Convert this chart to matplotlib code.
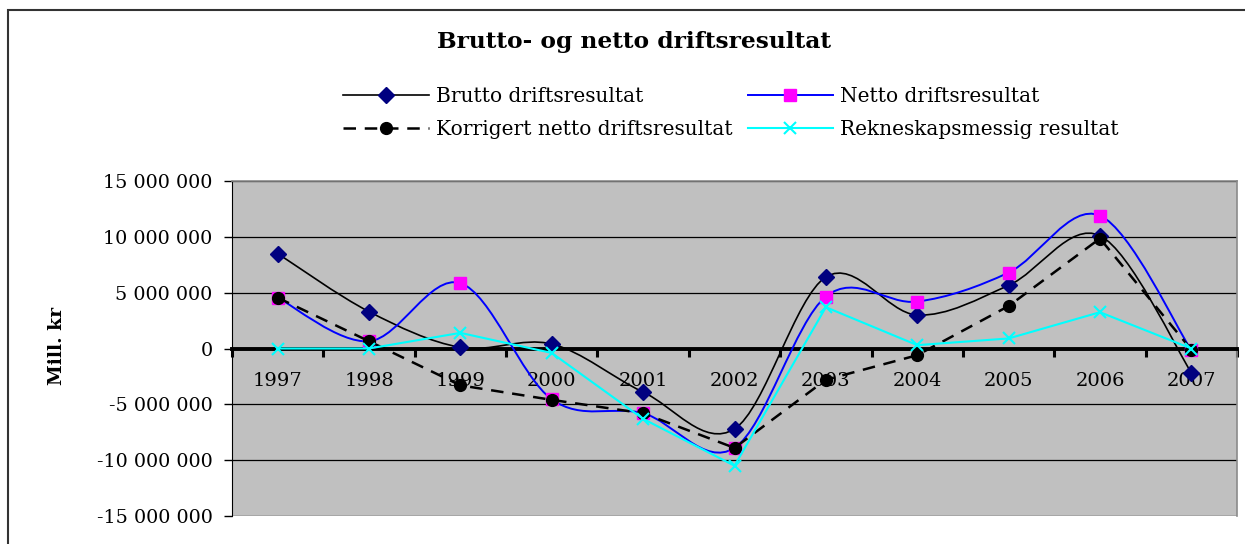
import matplotlib
matplotlib.use("Agg")
import matplotlib.pyplot as plt
from matplotlib.path import Path
from matplotlib.patches import PathPatch, Rectangle
from matplotlib.lines import Line2D
from matplotlib.ticker import FuncFormatter
import numpy as np

# data (kr)
years = ['1997', '1998', '1999', '2000', '2001', '2002', '2003', '2004', '2005', '2006', '2007']
brutto = [8.5e6, 3.3e6, 0.1e6, 0.4e6, -3.9e6, -7.2e6, 6.4e6, 3.0e6, 5.65e6, 10.1e6, -2.15e6]
netto = [4.55e6, 0.65e6, 5.85e6, -4.55e6, -5.8e6, -8.9e6, 4.65e6, 4.2e6, 6.8e6, 11.9e6, -0.15e6]
korrigert = [4.55e6, 0.65e6, -3.3e6, -4.6e6, -5.8e6, -8.9e6, -2.8e6, -0.6e6, 3.8e6, 9.85e6, -0.1e6]
rekneskap = [0.0, 0.0, 1.4e6, -0.4e6, -6.3e6, -10.5e6, 3.7e6, 0.3e6, 0.9e6, 3.25e6, 0.0]

labels = ['Brutto driftsresultat', 'Netto driftsresultat',
          'Korrigert netto driftsresultat', 'Rekneskapsmessig resultat']

plt.rcParams['font.family'] = ['DejaVu Serif']
plt.rcParams['axes.unicode_minus'] = False


def smooth_path(x, y):
    # excel style smoothed line (cubic bezier through the points)
    n = len(x)
    verts = [(x[0], y[0])]
    codes = [Path.MOVETO]
    for i in range(n - 1):
        xp, yp = (x[i - 1], y[i - 1]) if i > 0 else (x[i], y[i])
        xn, yn = (x[i + 2], y[i + 2]) if i + 2 < n else (x[i + 1], y[i + 1])
        c1 = (x[i] + (x[i + 1] - xp) / 6, y[i] + (y[i + 1] - yp) / 6)
        c2 = (x[i + 1] - (xn - x[i]) / 6, y[i + 1] - (yn - y[i]) / 6)
        verts += [c1, c2, (x[i + 1], y[i + 1])]
        codes += [Path.CURVE4] * 3
    return Path(verts, codes)


fig = plt.figure(figsize=(12.45, 5.44), dpi=100)
fig.patches.append(Rectangle((8 / 1245, -0.05), 1.1, 1 - 10 / 544 + 0.05,
                             transform=fig.transFigure, fill=False,
                             edgecolor='#333333', lw=1.5))

ax = fig.add_axes([232 / 1245, 28 / 544, 1005 / 1245, 335 / 544])
ax.set_facecolor('#C0C0C0')
x = np.arange(len(years))

# Brutto
ax.add_patch(PathPatch(smooth_path(x, brutto), facecolor='none', edgecolor='black', lw=1.2, zorder=3))
ax.plot(x, brutto, ls='none', marker='D', ms=8, color='#000080', zorder=3.1)
# Netto
ax.add_patch(PathPatch(smooth_path(x, netto), facecolor='none', edgecolor='#0000FF', lw=1.4, zorder=3.2))
ax.plot(x, netto, ls='none', marker='s', ms=8.5, color='#FF00FF', zorder=3.3)
# Korrigert
ax.plot(x, korrigert, color='black', lw=1.8, ls=(0, (5, 3.5)), zorder=3.4)
ax.plot(x, korrigert, ls='none', marker='o', ms=8.5, color='black', zorder=3.5)
# Rekneskap
ax.plot(x, rekneskap, color='#00FFFF', lw=1.5, marker='x', ms=9, mew=1.5, zorder=3.6)

ax.set_xlim(-0.5, len(years) - 0.5)
ax.set_ylim(-15e6, 15e6)
ax.set_yticks(np.arange(-15e6, 15e6 + 1, 5e6))
ax.yaxis.set_major_formatter(FuncFormatter(lambda v, p: f"{v:,.0f}".replace(',', ' ')))
ax.yaxis.grid(True, color='black', lw=0.9)
ax.tick_params(axis='y', direction='out', length=6, width=1, labelsize=13.8, pad=8)

ax.spines['bottom'].set_position(('data', 0))
ax.spines['bottom'].set_linewidth(2.8)
ax.spines['bottom'].set_zorder(2.9)
ax.spines['left'].set_color('black')
for s in ['top', 'right']:
    ax.spines[s].set_color('#8a8a8a')
    ax.spines[s].set_linewidth(1.2)

ax.set_xticks(x)
ax.set_xticklabels(years)
ax.set_xticks(np.arange(-0.5, len(years), 1), minor=True)
ax.tick_params(axis='x', which='major', length=0, pad=17, labelsize=14)
ax.tick_params(axis='x', which='minor', direction='out', length=6, width=2.2)

fig.text(634 / 1245, 1 - 42 / 544, 'Brutto- og netto driftsresultat',
         ha='center', va='center', fontsize=16.8, fontweight='bold')
fig.text(57 / 1245, 1 - 346 / 544, 'Mill. kr', rotation=90, ha='center', va='center',
         fontsize=13.5, fontweight='bold')

h_brutto = Line2D([], [], color='black', lw=1.2, marker='D', ms=8, mfc='#000080', mec='#000080')
h_netto = Line2D([], [], color='#0000FF', lw=1.4, marker='s', ms=8.5, mfc='#FF00FF', mec='#FF00FF')
h_korr = Line2D([], [], color='black', lw=1.8, ls=(0, (5, 3.5)), marker='o', ms=8.5)
h_rekn = Line2D([], [], color='#00FFFF', lw=1.5, marker='x', ms=9, mew=1.5)
# legend fills column-wise, so order gives rows: Brutto/Netto, Korrigert/Rekneskap
fig.legend([h_brutto, h_korr, h_netto, h_rekn],
           [labels[0], labels[2], labels[1], labels[3]],
           ncol=2, loc='center', bbox_to_anchor=(731 / 1245, 1 - 113 / 544),
           frameon=False, fontsize=14.5, handlelength=4.25, handletextpad=0.35,
           columnspacing=0.75, labelspacing=0.72, numpoints=1)

fig.savefig('out.png', dpi=100)
